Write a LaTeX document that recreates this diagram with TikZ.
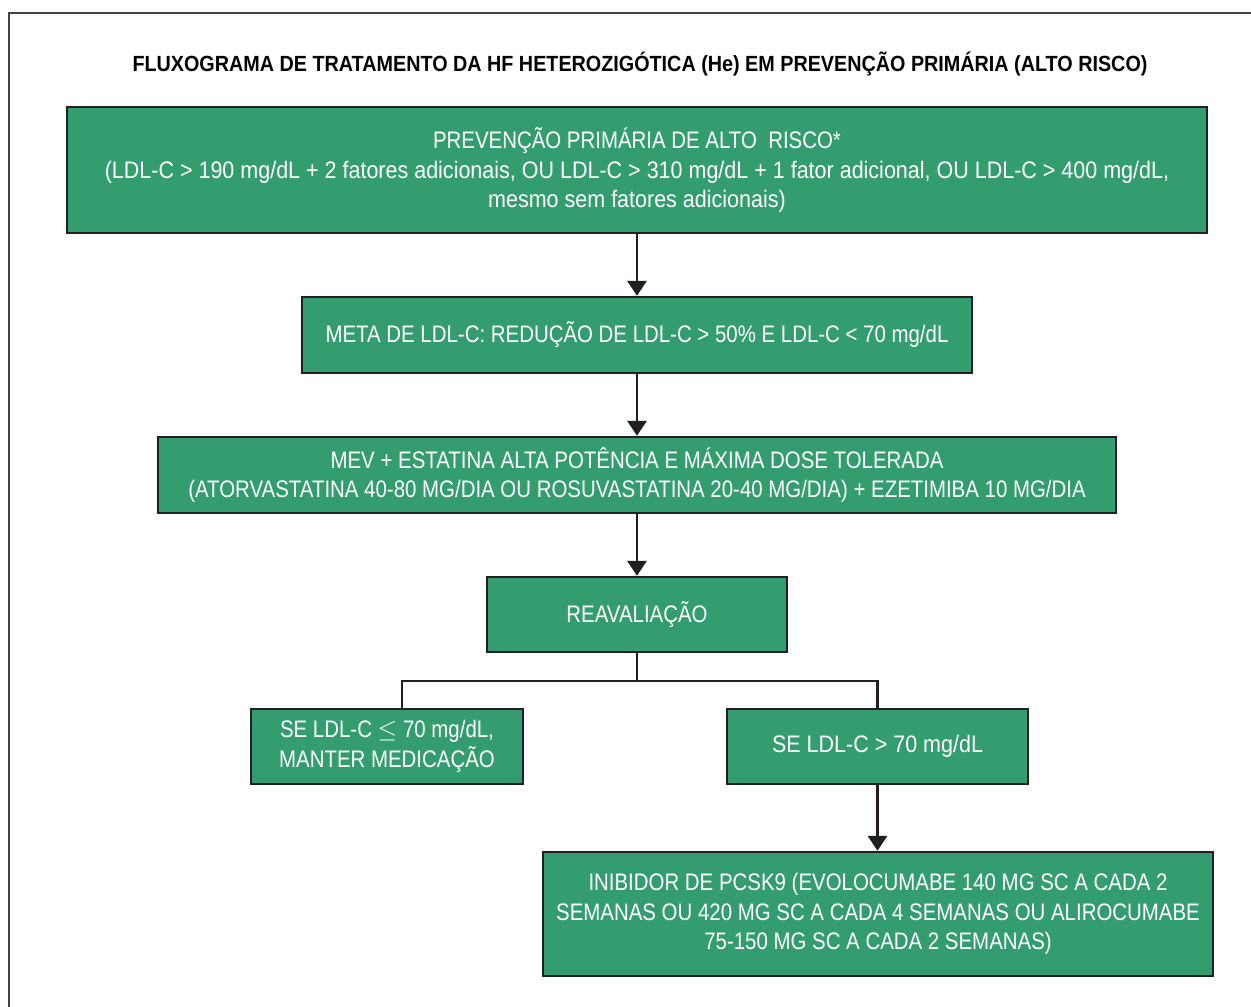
\documentclass[tikz,border=0pt]{standalone}
\usepackage{fontspec}
\setmainfont[FakeStretch=0.9]{Liberation Sans}
\newfontfamily\caixaalta[FakeStretch=0.855]{Liberation Sans}
\usepackage{xcolor}
\usetikzlibrary{arrows.meta,positioning}

\definecolor{caixaverde}{RGB}{52,157,112}
\definecolor{tinta}{RGB}{35,31,32}

\tikzset{
  caixa/.style={draw=tinta, line width=1.5pt, fill=caixaverde, text=white,
    align=center, inner sep=0pt, font=\fontsize{13.6}{16.8}\selectfont},
  maiusc/.style={caixa, font=\fontsize{13.6}{16.8}\selectfont\caixaalta},
  seta/.style={draw=tinta, line width=1.4pt, -{Triangle[width=11pt,length=8.5pt]}},
  ramo/.style={draw=tinta, line width=1.4pt}
}

\begin{document}
\begin{tikzpicture}[x=0.02cm,y=-0.02cm]
                    \useasboundingbox (0,0) rectangle (1251,1007);
                    
                    % Frame
                    \draw [line width=0.8pt, color=tinta!85] (9,1007) -- (9,13) -- (1251,13);%
                    
                    % Title
                    \node (titulo) at (640,64) {\fontsize{12.5}{15}\selectfont\bfseries FLUXOGRAMA DE TRATAMENTO DA HF HETEROZIGÓTICA (He) EM PREVENÇÃO PRIMÁRIA (ALTO RISCO)};%
                    
                    % Boxes
                    \node [caixa, minimum width=22.8cm, minimum height=2.52cm] (prevencao) at (637,170)
                      {{\caixaalta PREVENÇÃO PRIMÁRIA DE ALTO\ \ RISCO*}\\(LDL-C > 190 mg/dL + 2 fatores adicionais, OU LDL-C > 310 mg/dL + 1 fator adicional, OU LDL-C > 400 mg/dL,\\mesmo sem fatores adicionais)};%
                    \node [maiusc, minimum width=13.4cm, minimum height=1.52cm] (meta) at (637,335)
                      {META DE LDL-C: REDUÇÃO DE LDL-C > 50\% E LDL-C < 70 mg/dL};%
                    \node [maiusc, minimum width=19.16cm, minimum height=1.52cm] (mev) at (637,475)
                      {MEV + ESTATINA ALTA POTÊNCIA E MÁXIMA DOSE TOLERADA\\(ATORVASTATINA 40-80 MG/DIA OU ROSUVASTATINA 20-40 MG/DIA) + EZETIMIBA 10 MG/DIA};%
                    \node [maiusc, minimum width=6cm, minimum height=1.5cm] (reavaliacao) at (637,614.5)
                      {REAVALIAÇÃO};%
                    \node [maiusc, minimum width=5.44cm, minimum height=1.5cm] (manter) at (387,746.5)
                      {SE LDL-C $\leq$ 70 mg/dL,\\MANTER MEDICAÇÃO};%
                    \node [caixa, minimum width=6.02cm, minimum height=1.5cm] (acima) at (877.5,746.5)
                      {SE LDL-C > 70 mg/dL};%
                    \node [maiusc, minimum width=13.4cm, minimum height=2.48cm] (pcsk9) at (878,914)
                      {INIBIDOR DE PCSK9 (EVOLOCUMABE 140 MG SC A CADA 2\\SEMANAS OU 420 MG SC A CADA 4 SEMANAS OU ALIROCUMABE\\75-150 MG SC A CADA 2 SEMANAS)};%
                    
                    % Arrows
                    \draw [seta] (prevencao) -- (meta);%
                    \draw [seta] (meta) -- (mev);%
                    \draw [seta] (mev) -- (reavaliacao);%
                    \draw [seta] (acima.south) -- (acima.south |- pcsk9.north);%
                    
                    % Branch
                    \coordinate (divisao) at (637,681);%
                    \coordinate (ramoesq) at (402,709);%
                    \draw [ramo] (reavaliacao.south) -- (divisao) -| (ramoesq);%
                    \draw [ramo] (divisao) -| (acima.north);%
\end{tikzpicture}
\end{document}
